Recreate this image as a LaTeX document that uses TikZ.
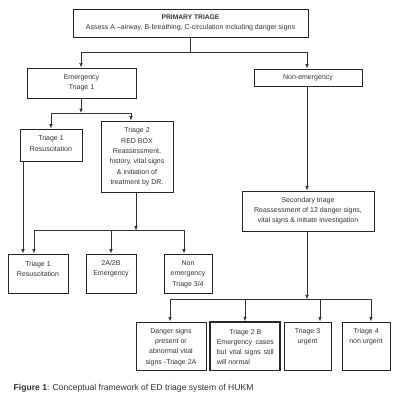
\documentclass[tikz,border=0pt]{standalone}
\usepackage{fontspec}
\setmainfont{Liberation Sans}
\usetikzlibrary{arrows.meta}
\begin{document}
\begin{tikzpicture}[x=1pt,y=-1pt,
  box/.style={draw=black!85, line width=0.9pt, inner sep=0pt, fill=white},
  txt/.style={inner sep=0pt, align=center, font=\fontsize{7}{10.3}\selectfont, text=black!80},
  conn/.style={draw=black!80, line width=0.7pt},
  arr/.style={conn, -{Latex[length=4.5pt,width=3.6pt]}}]
\useasboundingbox (0,0) rectangle (400,404);
% boxes
\node[box, minimum width=235pt, minimum height=28pt] (prim) at (190.5,23) {};
\node[box, minimum width=109pt, minimum height=30pt] (emerg) at (81.5,83) {};
\node[box, minimum width=108pt, minimum height=17pt] (nonem) at (308,77.5) {};
\node[box, minimum width=62pt, minimum height=32pt] (t1a) at (51,145) {};
\node[box, minimum width=72pt, minimum height=71pt] (t2) at (137,156.5) {};
\node[box, minimum width=132pt, minimum height=40pt] (sec) at (308,211) {};
\node[box, minimum width=60pt, minimum height=39pt] (t1b) at (38,273.5) {};
\node[box, minimum width=50pt, minimum height=39pt] (t2ab) at (111,273.5) {};
\node[box, minimum width=48pt, minimum height=39pt] (t34) at (188,273.5) {};
\node[box, minimum width=70pt, minimum height=48.7pt] (dang) at (171,346.3) {};
\node[box, line width=1.4pt, minimum width=70pt, minimum height=48.7pt] (t2b) at (245,346.3) {};
\node[box, minimum width=47pt, minimum height=48.7pt] (t3) at (307.5,346.3) {};
\node[box, minimum width=48pt, minimum height=48.7pt] (t4) at (366,346.3) {};
% texts
\node[txt] (primtxt) at (190.5,23.2) {{\fontsize{6.7}{10.3}\selectfont\bfseries PRIMARY TRIAGE}\\Assess A –airway, B-breathing, C-circulation including danger signs};
\node[txt] (emergtxt) at (81.5,83) {Emergency\\Triage 1};
\node[txt] (nonemtxt) at (308,77.7) {Non-emergency};
\node[txt] (t1atxt) at (51,143.5) {Triage 1\\Resuscitation};
\node[txt] (t2txt) at (137,156.9) {Triage 2\\RED BOX\\Reassessment,\\history, vital signs\\\& initiation of\\treatment by DR.};
\node[txt] (sectxt) at (308,210.5) {Secondary triage\\Reassessment of 12 danger signs,\\vital signs \& initiate investigation};
\node[txt] (t1btxt) at (38,269) {Triage 1\\Resuscitation};
\node[txt] (t2abtxt) at (111,269) {2A/2B\\Emergency};
\node[txt] (t34txt) at (188,274.2) {Non\\emergency\\Triage 3/4};
\node[txt] (dangtxt) at (171,347) {Danger signs\\present or\\abnormal vital\\signs -Triage 2A};
\node[txt] (t2btxt) at (245.3,347) {\makebox[57pt]{Triage 2 B}\\\makebox[57pt][s]{Emergency\hfill cases}\\\makebox[57pt][s]{but vital signs still}\\\makebox[57pt][l]{will normal}};
\node[txt] (t3txt) at (307.5,336.9) {Triage 3\\urgent};
\node[txt] (t4txt) at (366,336.9) {Triage 4\\non urgent};
\node[txt, anchor=west, font=\fontsize{8.6}{10}\selectfont] (cap) at (13.5,388.3) {{\bfseries Figure 1}: Conceptual framework of ED triage system of HUKM};
% junctions
\coordinate (j1) at (190.5,52);
\coordinate (j2) at (81,113);
\coordinate (j3) at (136,230.7);
\coordinate (j4) at (307,299.3);
% connectors
\draw[conn] (prim.south) -- (j1);
\draw[arr] (j1) -| ([xshift=-0.5]emerg.north);
\draw[arr] (j1) -| ([xshift=-1]nonem.north);
\draw[arr] ([xshift=-0.5]emerg.south) -- (j2);
\draw[arr] (j2) -| (t1a.north);
\draw[arr] (j2) -| ([xshift=-6]t2.north);
\draw[arr] ([xshift=-28]t1a.south) -- ([xshift=-28]t1a.south |- t1b.north);
\draw[arr] ([xshift=-1]t2.south) -- (j3);
\draw[arr] (j3) -| ([xshift=-4]t1b.north);
\draw[arr] (j3) -| (t2ab.north);
\draw[arr] (j3) -| ([xshift=-4]t34.north);
\draw[arr] ([xshift=-1]nonem.south) -- ([xshift=-1]sec.north);
\draw[arr] ([xshift=-1]sec.south) -- (j4);
\draw[arr] (j4) -| ([xshift=-1]dang.north);
\draw[arr] (j4) -| (t2b.north);
\draw[arr] (j4) -| ([xshift=12.5]t3.north);
\draw[arr] (j4) -| ([xshift=5]t4.north);
\end{tikzpicture}
\end{document}
